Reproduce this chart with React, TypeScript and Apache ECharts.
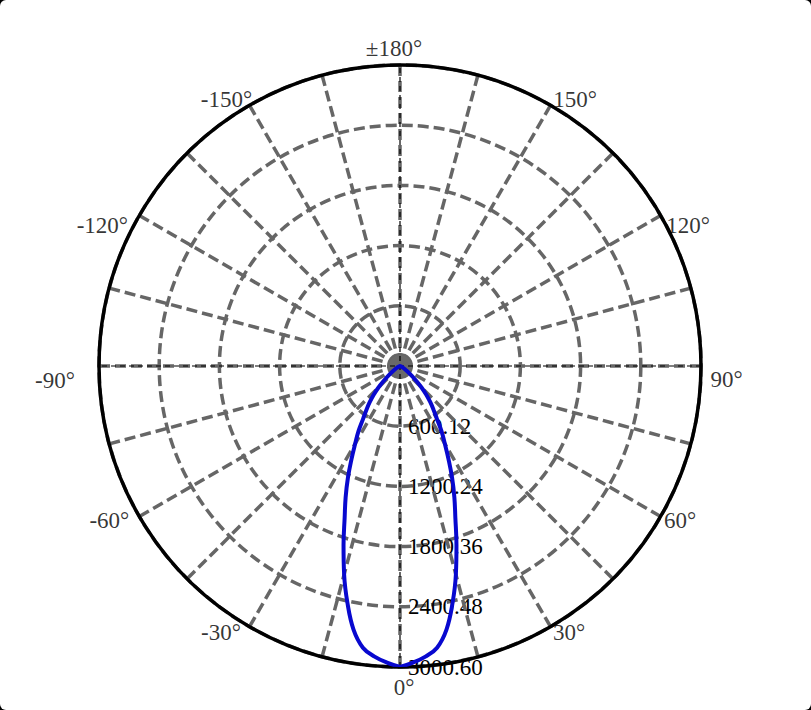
import React, { useEffect, useRef } from "react";
import * as echarts from "echarts";

// Luminous intensity (cd) vs. polar angle (deg), one half-plane, mirrored.
const halfAngles = [
  0, 2.5, 5, 7.5, 10, 12.5, 15, 17.5, 20, 22.5, 25, 27.5, 30, 32.5, 35, 37.5, 40,
  42.5, 45, 47.5, 50, 55, 60, 65, 70, 75, 80, 85, 90, 95, 100, 105, 110, 115, 120,
  125, 130, 135, 140, 145, 150, 155, 160, 165, 170, 175, 180,
];
const halfValues = [
  3000, 2960, 2908, 2832, 2668, 2420, 2152, 1872, 1614, 1416, 1228, 1048, 893, 770,
  640, 549, 468, 388, 306, 222, 160, 72, 36, 20, 12, 8, 5, 3, 0, 0, 0, 0, 0, 0, 0,
  0, 0, 0, 0, 0, 0, 0, 0, 0, 0, 0, 0,
];

const radiusMax = 3000.6;
const radiusStep = 600.12;
const angleStep = 15;

const angleLabelValues = [0, 30, 60, 90, 120, 150, 180, 210, 240, 270, 300, 330];
const angleLabelTexts = [
  "0°", "30°", "60°", "90°", "120°", "150°", "±180°", "-150°", "-120°", "-90°", "-60°", "-30°",
];
// pixel offsets of each angle label from its point on the outer circle (styling)
const angleLabelOffsets = [
  [4, 20], [18.5, 6], [19.5, 3.5], [25.5, 13], [27.5, 9.5], [24.5, -5.5],
  [-6, -17], [-23, -5.5], [-37, 9.5], [-44, 14], [-30, 3.5], [-28.5, 6],
];

const FONT = "'Liberation Serif', 'Times New Roman', serif";
const GRID_STYLE = { color: "#666", width: 3.5, type: [11, 5] };

export default function App() {
  const ref = useRef<HTMLDivElement>(null);

  useEffect(() => {
    if (!ref.current) return;
    const chart = echarts.init(ref.current, null, { renderer: "svg" });

    const curve: number[][] = [];
    for (let i = 0; i < halfAngles.length; i++) curve.push([halfValues[i], halfAngles[i]]);
    for (let i = halfAngles.length - 2; i >= 0; i--)
      curve.push([halfValues[i], 360 - halfAngles[i]]);

    const labelData = angleLabelValues.map((a, i) => ({
      value: [radiusMax, a],
      name: angleLabelTexts[i],
      label: { offset: angleLabelOffsets[i] },
    }));

    chart.setOption({
      animation: false,
      polar: { center: [400, 366], radius: 301 },
      angleAxis: {
        type: "value",
        min: 0,
        max: 360,
        interval: angleStep,
        startAngle: 270,
        clockwise: false,
        z: 3,
        axisLine: { show: true, lineStyle: { color: "#000", width: 3.5 } },
        axisTick: { show: false },
        axisLabel: { show: false },
        splitLine: { show: true, lineStyle: GRID_STYLE },
      },
      radiusAxis: {
        type: "value",
        min: 0,
        max: radiusMax,
        interval: radiusStep,
        z: 2,
        axisLine: { show: false },
        axisTick: { show: false },
        axisLabel: {
          show: true,
          color: "#000",
          fontSize: 23,
          fontFamily: FONT,
          align: "left",
          verticalAlign: "middle",
          margin: 8,
          formatter: (v: number) => (v === 0 ? "" : v.toFixed(2)),
        },
        splitLine: { show: true, lineStyle: GRID_STYLE },
      },
      series: [
        {
          type: "scatter",
          coordinateSystem: "polar",
          data: [[0, 0]],
          symbol: "circle",
          symbolSize: 22,
          itemStyle: { color: "#6a6a6a" },
          z: 3,
          silent: true,
        },
        {
          type: "line",
          coordinateSystem: "polar",
          data: [[radiusMax, 0], [0, 0], [radiusMax, 180]],
          showSymbol: false,
          lineStyle: { color: "#000", width: 1.2, type: [5, 4] },
          z: 4,
          silent: true,
        },
        {
          type: "line",
          coordinateSystem: "polar",
          data: [[radiusMax, 90], [0, 90], [radiusMax, 270]],
          showSymbol: false,
          lineStyle: { color: "#000", width: 1.2, type: [5, 4] },
          z: 4,
          silent: true,
        },
        {
          type: "line",
          coordinateSystem: "polar",
          data: curve,
          showSymbol: false,
          smooth: 0.4,
          lineStyle: { color: "#0808cf", width: 4 },
          z: 6,
        },
        {
          type: "scatter",
          coordinateSystem: "polar",
          data: labelData,
          symbolSize: 1,
          itemStyle: { color: "rgba(0,0,0,0)" },
          z: 7,
          label: {
            show: true,
            position: "inside",
            align: "center",
            verticalAlign: "middle",
            color: "#000",
            fontSize: 23,
            fontFamily: FONT,
            formatter: (p: any) => p.name,
          },
        },
      ],
    });

    return () => chart.dispose();
  }, []);

  return (
    <div
      style={{
        position: "fixed",
        left: 0,
        top: 0,
        width: 811,
        height: 710,
        background: "#000",
      }}
    >
      <div
        style={{
          width: 811,
          height: 710,
          background: "#fff",
          borderRadius: 6,
          overflow: "hidden",
        }}
      >
        <div ref={ref} style={{ width: 811, height: 710 }} />
      </div>
    </div>
  );
}
